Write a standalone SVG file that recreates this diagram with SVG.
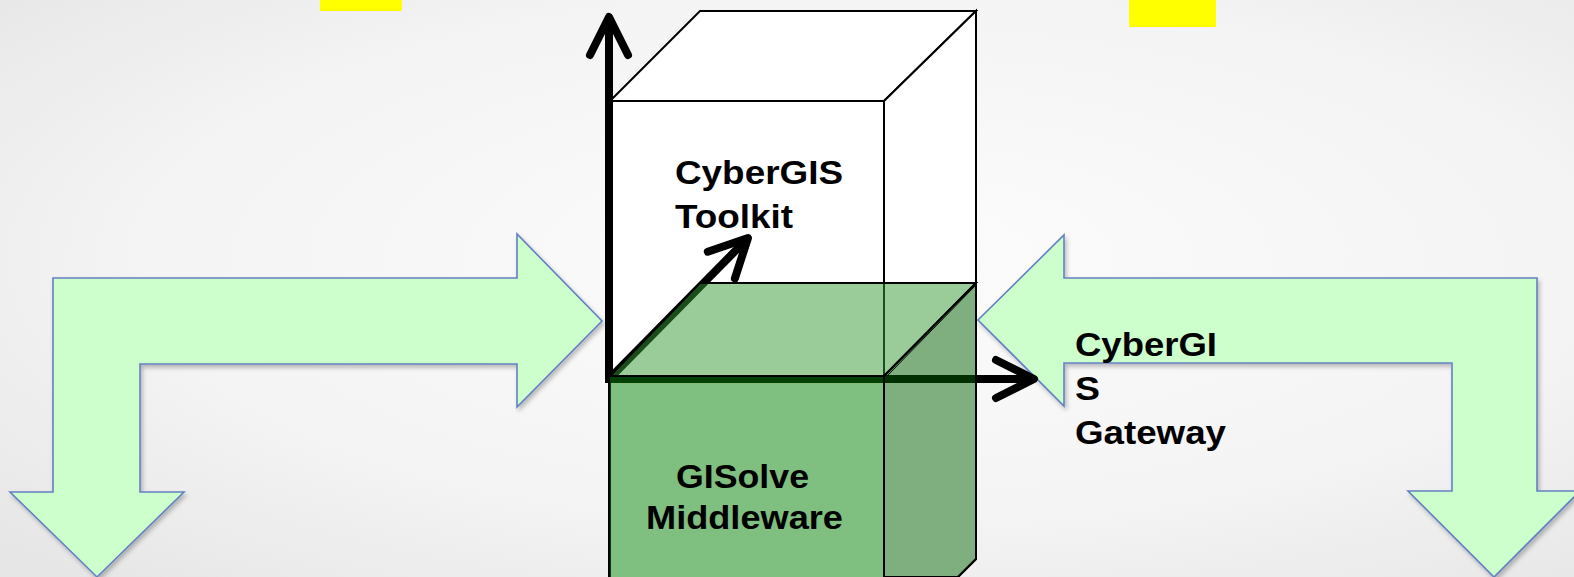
<svg xmlns="http://www.w3.org/2000/svg" width="1574" height="577" viewBox="0 0 1574 577">
  <style>
    .lbl { font-family: "Liberation Sans", Arial, sans-serif; font-weight: bold; font-size: 34px; fill: #000; }
    .bigarrow { fill: #ccffcc; stroke: #6381c2; stroke-width: 1.6; stroke-linejoin: miter; filter: url(#shadow); }
    .edge { stroke: #000; stroke-width: 2; stroke-linejoin: miter; }
    .axis { fill: none; stroke: #000; stroke-width: 8; marker-end: url(#chev); }
    .yellow { fill: #ffff00; }
  </style>
  <defs>
    <radialGradient id="bg" cx="55%" cy="45%" r="75%">
      <stop offset="0" stop-color="#fcfcfc"/>
      <stop offset="0.6" stop-color="#f4f4f4"/>
      <stop offset="1" stop-color="#e6e6e6"/>
    </radialGradient>
    <filter id="shadow" x="-10%" y="-10%" width="120%" height="120%">
      <feDropShadow dx="2" dy="3" stdDeviation="2" flood-color="#000" flood-opacity="0.25"/>
    </filter>
    <marker id="chev" markerUnits="userSpaceOnUse" viewBox="-50 -30 60 60" markerWidth="60" markerHeight="60" refX="0" refY="0" orient="auto" overflow="visible">
      <path d="M -38,-19 L 0,0 L -38,19" fill="none" stroke="#000" stroke-width="8" stroke-linecap="round" stroke-linejoin="round"/>
    </marker>
  </defs>

  <rect x="0" y="0" width="1574" height="577" fill="url(#bg)"/>

  <g id="highlights">
    <rect class="yellow" x="320" y="0" width="82" height="11"/>
    <rect class="yellow" x="1129" y="0" width="87" height="27"/>
  </g>

  <g id="left-arrow">
    <path class="bigarrow" d="M 53,278 L 517,278 L 517,234 L 602,321 L 517,407 L 517,364 L 140,364 L 140,492 L 184,492 L 97,577 L 10,492 L 53,492 Z"/>
  </g>

  <g id="gateway">
    <path class="bigarrow" d="M 1537,278 L 1064,278 L 1064,235 L 978,320 L 1064,406 L 1064,363 L 1452,363 L 1452,491 L 1408,491 L 1494,577 L 1580,491 L 1537,491 Z"/>
  </g>

  <g id="toolkit">
    <polygon class="edge" fill="#ffffff" points="610,101 700,11 976,11 884,101"/>
    <polygon class="edge" fill="#ffffff" points="884,101 976,11 976,559 958,577 884,577"/>
    <rect class="edge" fill="#ffffff" x="610" y="101" width="274" height="480"/>
    <text class="lbl" x="675" y="184" textLength="168" lengthAdjust="spacingAndGlyphs">CyberGIS</text>
    <text class="lbl" x="675" y="228" textLength="118" lengthAdjust="spacingAndGlyphs">Toolkit</text>
  </g>

  <g id="connectors">
    <line class="axis" x1="609" y1="383" x2="609" y2="17"/>
    <line class="axis" x1="610" y1="378" x2="748" y2="238"/>
    <line class="axis" x1="605" y1="379" x2="1034" y2="379"/>
  </g>

  <g id="middleware">
    <polygon class="edge" fill="#339933" fill-opacity="0.5" points="610,376 700,283 976,283 884,376"/>
    <polygon class="edge" fill="#006000" fill-opacity="0.5" points="884,376 976,283 976,559 958,577 884,577"/>
    <line x1="887" y1="376" x2="976" y2="285" stroke="#000" stroke-width="1"/>
    <rect class="edge" fill="#008000" fill-opacity="0.5" x="609" y="376" width="275" height="205"/>
    <text class="lbl" x="676" y="488" textLength="133" lengthAdjust="spacingAndGlyphs">GISolve</text>
    <text class="lbl" x="646" y="529" textLength="197" lengthAdjust="spacingAndGlyphs">Middleware</text>
  </g>

  <g id="gateway-label">
    <text class="lbl" x="1075" y="356" textLength="142" lengthAdjust="spacingAndGlyphs">CyberGI</text>
    <text class="lbl" x="1075" y="400" textLength="25" lengthAdjust="spacingAndGlyphs">S</text>
    <text class="lbl" x="1075" y="444" textLength="151" lengthAdjust="spacingAndGlyphs">Gateway</text>
  </g>
</svg>
